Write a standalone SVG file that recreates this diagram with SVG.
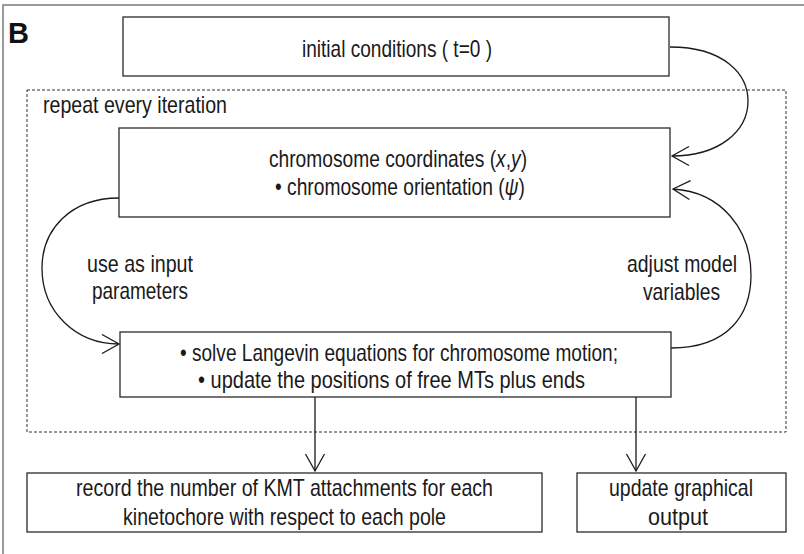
<svg xmlns="http://www.w3.org/2000/svg" width="804" height="554" viewBox="0 0 804 554">
<defs>
<style>
.frame{fill:none;stroke:#7a7a7a;stroke-width:1.5}
.box{fill:#fff;stroke:#2a2a2a;stroke-width:1.3}
.dash{fill:none;stroke:#333;stroke-width:1;stroke-dasharray:3 2}
.con{fill:none;stroke:#1a1a1a;stroke-width:1.3}
.t{font-family:"Liberation Sans",Arial,sans-serif;font-size:24px;fill:#1a1a1a}
.c{text-anchor:middle}
.i{font-style:italic}
.lbl{font-family:"Liberation Sans",Arial,sans-serif;font-size:29px;font-weight:bold;fill:#111}
</style>
<marker id="arr" markerUnits="userSpaceOnUse" viewBox="-20 -12 22 24" markerWidth="22" markerHeight="24" refX="0" refY="0" orient="auto" overflow="visible">
<path d="M-17,-9.5 L0,0 L-17,9.5" fill="none" stroke="#1a1a1a" stroke-width="1.3"/>
</marker>
</defs>
<rect width="804" height="554" fill="#fff"/>
<path class="frame" d="M3,560 V5 H810"/>
<text class="lbl" x="8" y="43">B</text>

<g id="loop">
<rect class="dash" x="27" y="90" width="759" height="342"/>
<text class="t" x="43" y="113" textLength="184" lengthAdjust="spacingAndGlyphs">repeat every iteration</text>
</g>

<g id="connectors">
<path class="con" d="M670,47 C725,47 748,75 748,101 C748,132 718,156 672,156" marker-end="url(#arr)"/>
<path class="con" d="M671,348 C728,348 751,315 751,275 C751,230 722,192 673,189" marker-end="url(#arr)"/>
<path class="con" d="M119,198 C70,198 42,230 42,268 C42,312 76,344 119,344" marker-end="url(#arr)"/>
<path class="con" d="M315,397 V471" marker-end="url(#arr)"/>
<path class="con" d="M636,397 V471" marker-end="url(#arr)"/>
<text class="t c" x="140" y="272" textLength="106" lengthAdjust="spacingAndGlyphs">use as input</text>
<text class="t c" x="140" y="299" textLength="96" lengthAdjust="spacingAndGlyphs">parameters</text>
<text class="t c" x="682" y="272" textLength="110" lengthAdjust="spacingAndGlyphs">adjust model</text>
<text class="t c" x="681.5" y="300" textLength="77" lengthAdjust="spacingAndGlyphs">variables</text>
</g>

<g id="init">
<rect class="box" x="123" y="17" width="546" height="59"/>
<text class="t c" x="397" y="57" textLength="190" lengthAdjust="spacingAndGlyphs">initial conditions ( t=0 )</text>
</g>

<g id="chromosome">
<rect class="box" x="119" y="128" width="551" height="89"/>
<text class="t c" transform="translate(398,167) scale(0.8,1)" x="0" y="0">chromosome coordinates (<tspan class="i">x</tspan>,<tspan class="i">y</tspan>)</text>
<text class="t c" transform="translate(400,195) scale(0.8,1)" x="0" y="0">• chromosome orientation (<tspan class="i">ψ</tspan>)</text>
</g>

<g id="solve">
<rect class="box" x="120" y="332" width="551" height="65"/>
<text class="t c" x="399" y="361" textLength="438" lengthAdjust="spacingAndGlyphs">• solve Langevin equations for chromosome motion;</text>
<text class="t c" x="391.5" y="388" textLength="387" lengthAdjust="spacingAndGlyphs">• update the positions of free MTs plus ends</text>
</g>

<g id="record">
<rect class="box" x="27" y="473" width="515" height="59"/>
<text class="t c" x="284.5" y="496" textLength="417" lengthAdjust="spacingAndGlyphs">record the number of KMT attachments for each</text>
<text class="t c" x="284.5" y="525" textLength="323" lengthAdjust="spacingAndGlyphs">kinetochore with respect to each pole</text>
</g>

<g id="graphical">
<rect class="box" x="577" y="473" width="209" height="59"/>
<text class="t c" x="681" y="496" textLength="144" lengthAdjust="spacingAndGlyphs">update graphical</text>
<text class="t c" x="678" y="525" textLength="60" lengthAdjust="spacingAndGlyphs">output</text>
</g>
</svg>
